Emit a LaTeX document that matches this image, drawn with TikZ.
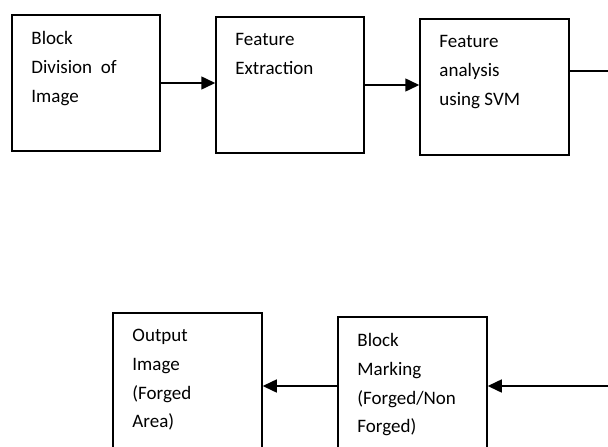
\documentclass[tikz,border=0pt]{standalone}
\usepackage{fontspec}
\setmainfont{Carlito}
\usetikzlibrary{arrows.meta}
\begin{document}
\begin{tikzpicture}[x=1pt,y=-1pt,
  box/.style={draw=black, line width=1.5pt, inner sep=0pt},
  txt/.style={anchor=north west, inner sep=0pt, align=left, xshift=20pt, yshift=-17pt,
    font=\fontsize{19}{28.7}\selectfont},
  conn/.style={draw=black, line width=1.5pt},
  arr/.style={conn, -{Triangle[length=14pt,width=13pt]}}]
\useasboundingbox (0,0) rectangle (608,447);
\clip (0,0) rectangle (608,447);
\node[box, minimum width=148pt, minimum height=136pt, label={[txt]north west:Block\\Division~ of\\Image}] (b1) at (86,83) {};
\node[box, minimum width=148pt, minimum height=136pt, label={[txt]north west:Feature\\Extraction}] (b2) at (290,85) {};
\node[box, minimum width=149pt, minimum height=136pt, label={[txt]north west:Feature\\analysis\\using SVM}] (b3) at (494.5,87) {};
\node[box, minimum width=149pt, minimum height=157pt, label={[txt]north west:Output\\Image\\(Forged\\Area)}] (b4) at (187.5,391.5) {};
\node[box, minimum width=149pt, minimum height=153pt, label={[txt]north west:Block\\Marking\\(Forged/Non\\Forged)}] (b5) at (412.5,393.5) {};
\coordinate (e1) at (610,71);
\coordinate (e2) at (610,386);
\draw[arr] (b1.east) -- (b1.east -| b2.west);
\draw[arr] (b2.east) -- (b2.east -| b3.west);
\draw[conn] (b3.east |- e1) -- (e1);
\draw[arr] (e2) -- (e2 -| b5.east);
\draw[arr] (b5.west |- e2) -- (e2 -| b4.east);
\end{tikzpicture}
\end{document}
